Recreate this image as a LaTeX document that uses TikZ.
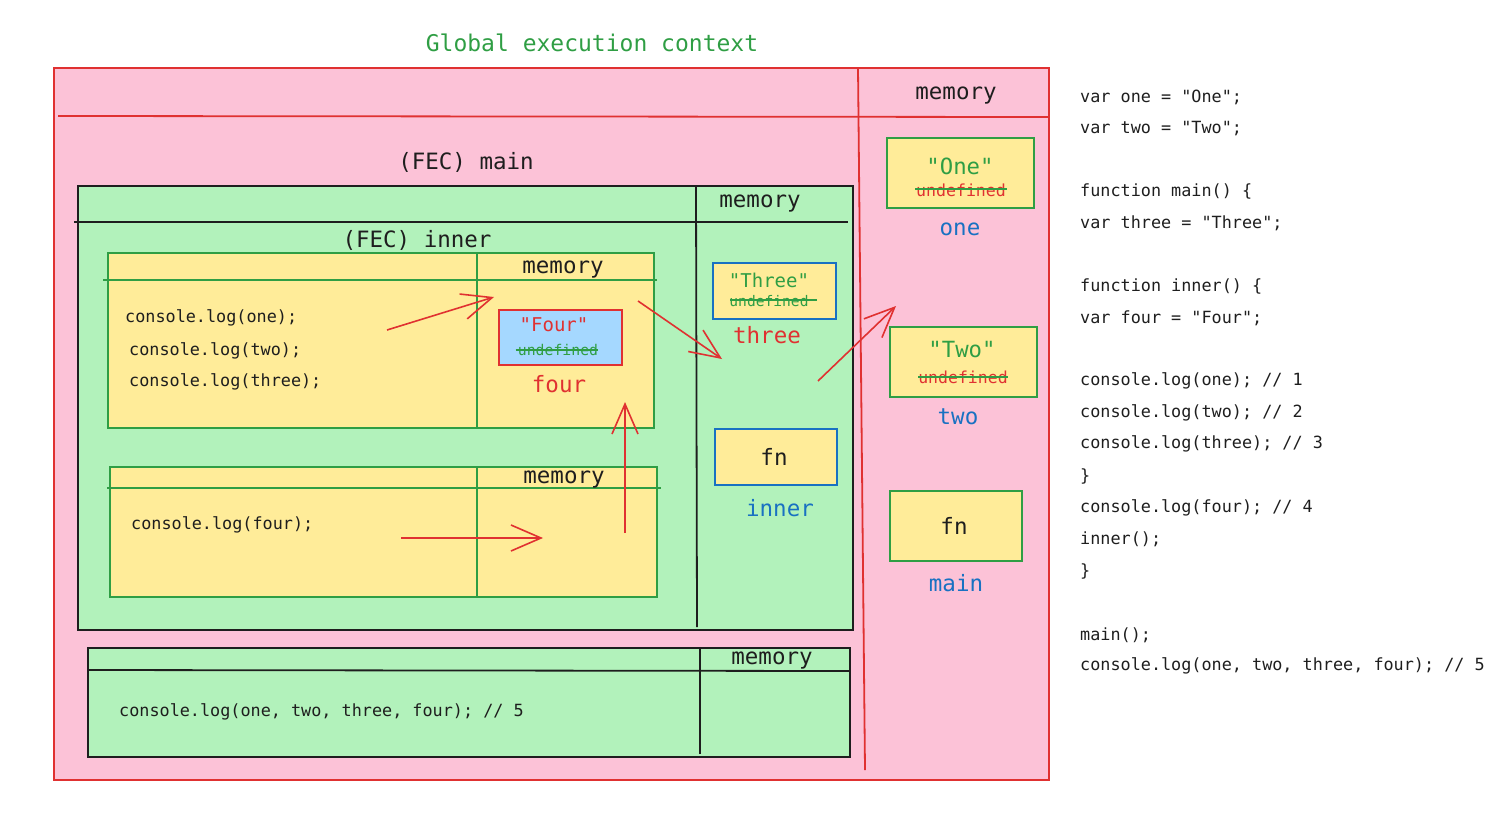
\documentclass[tikz,border=0pt]{standalone}
\usepackage{fontspec}
\setmonofont{DejaVu Sans Mono}
\usetikzlibrary{arrows.meta}
\definecolor{pinkF}{HTML}{FCC2D7}
\definecolor{redS}{HTML}{E03131}
\definecolor{greenF}{HTML}{B2F2BB}
\definecolor{greenS}{HTML}{2F9E44}
\definecolor{yellowF}{HTML}{FFEC99}
\definecolor{blueS}{HTML}{1971C2}
\definecolor{blueF}{HTML}{A5D8FF}
\definecolor{inkC}{HTML}{1E1E1E}
\begin{document}
\begin{tikzpicture}[x=1pt,y=-1pt,
  box/.style={draw, line width=1.8pt, inner sep=0pt, anchor=north west},
  lbl/.style={font=\fontsize{22.5}{26}\selectfont\ttfamily, inner sep=0pt, text=inkC},
  code/.style={font=\fontsize{16.8}{20}\selectfont\ttfamily, inner sep=0pt, anchor=west, text=inkC},
  val/.style={font=\fontsize{#1}{#1}\selectfont\ttfamily, inner sep=0pt},
  strike/.style={line width=1.6pt},
  divider/.style={line width=1.8pt},
  arr/.style={draw=redS, line width=1.6pt, -{Straight Barb[length=30pt,width=26pt]}}
]
\useasboundingbox (0,0) rectangle (1493,817);

% title
\node[lbl, text=greenS, font=\fontsize{23}{26}\selectfont\ttfamily] (title) at (592,43) {Global execution context};

% global execution context
\node[box, fill=pinkF, draw=redS, minimum width=995pt, minimum height=712pt] (gec) at (53,67) {};
\draw[divider, redS] (58,116) -- (1048,117);
\draw[divider, redS] (858,68) -- (865,770);
\node[lbl] (gmem) at (956,96) {memory};
\node[lbl] (fecmain) at (466,162) {(FEC) main};

% main FEC
\node[box, fill=greenF, draw=inkC, minimum width=775pt, minimum height=444pt] (mainbox) at (77,185) {};
\draw[divider, inkC] (74,222) -- (848,222);
\draw[divider, inkC] (696,185) -- (697,627);
\node[lbl] (mmem) at (760,204) {memory};
\node[lbl] (fecinner) at (417,240) {(FEC) inner};

% inner FEC box 1
\node[box, fill=yellowF, draw=greenS, minimum width=546pt, minimum height=175pt] (inner1) at (107,252) {};
\draw[divider, greenS] (103,280) -- (657,280);
\draw[divider, greenS] (477,252) -- (477,427);
\node[lbl] (i1mem) at (563,270) {memory};
\node[code] (c1) at (125,318) {console.log(one);};
\node[code] (c2) at (129,351) {console.log(two);};
\node[code] (c3) at (129,382) {console.log(three);};

% Four value
\node[box, fill=blueF, draw=redS, minimum width=123pt, minimum height=55pt] (fourbox) at (498,309) {};
\node[val=19, text=redS] (fourv) at (554,325) {"Four"};
\node[val=14.8, text=greenS] (fourund) at (558,350) {undefined};
\draw[strike, greenS] (fourund.west) ++(-2,0) -- (598,350);
\node[lbl, text=redS] (fourname) at (559,384) {four};

% inner FEC box 2
\node[box, fill=yellowF, draw=greenS, minimum width=547pt, minimum height=130pt] (inner2) at (109,466) {};
\draw[divider, greenS] (107,488) -- (661,488);
\draw[divider, greenS] (477,466) -- (477,596);
\node[lbl] (i2mem) at (564,480) {memory};
\node[code] (c4) at (131,525) {console.log(four);};

% main memory: three, inner
\node[box, fill=yellowF, draw=blueS, minimum width=123pt, minimum height=56pt] (threebox) at (712,262) {};
\node[val=19, text=greenS] (threev) at (769,280) {"Three"};
\node[val=14.6, text=greenS] (threeund) at (769,301) {undefined};
\draw[strike, greenS] (730,300) -- (817,300);
\node[lbl, text=redS] (threename) at (767,335) {three};

\node[box, fill=yellowF, draw=blueS, minimum width=122pt, minimum height=56pt] (innerfn) at (714,428) {};
\node[lbl] (innerfnt) at (774,457) {fn};
\node[lbl, text=blueS] (innername) at (780,508) {inner};

% global memory
\node[box, fill=yellowF, draw=greenS, minimum width=147pt, minimum height=70pt] (onebox) at (886,137) {};
\node[val=22.3, text=greenS] (onev) at (960,166) {"One"};
\node[val=16.6, text=redS] (oneund) at (961,190) {undefined};
\draw[strike, greenS] (915,189) -- (1007,189);
\node[lbl, text=blueS] (onename) at (960,229) {one};

\node[box, fill=yellowF, draw=greenS, minimum width=147pt, minimum height=70pt] (twobox) at (889,326) {};
\node[val=22.3, text=greenS] (twov) at (962,350) {"Two"};
\node[val=16.5, text=redS] (twound) at (963,377) {undefined};
\draw[strike, greenS] (918,377) -- (1008,377);
\node[lbl, text=blueS] (twoname) at (958,417) {two};

\node[box, fill=yellowF, draw=greenS, minimum width=132pt, minimum height=70pt] (mainfn) at (889,490) {};
\node[lbl] (mainfnt) at (954,526) {fn};
\node[lbl, text=blueS] (mainname) at (956,583) {main};

% bottom GEC code box
\node[box, fill=greenF, draw=inkC, minimum width=762pt, minimum height=109pt] (gcode) at (87,647) {};
\draw[divider, inkC] (87,670) -- (849,671);
\draw[divider, inkC] (700,647) -- (700,754);
\node[lbl] (gcmem) at (772,661) {memory};
\node[code] (c5) at (119,712) {console.log(one, two, three, four); // 5};

% arrows
\coordinate (a1s) at (387,330); \coordinate (a1e) at (494,297);
\coordinate (a2s) at (638,301); \coordinate (a2e) at (722,359);
\coordinate (a3s) at (401,538); \coordinate (a3e) at (543,538);
\coordinate (a4s) at (625,533); \coordinate (a4e) at (625,402);
\coordinate (a5s) at (818,381); \coordinate (a5e) at (896,306);
\draw[arr] (a1s) -- (a1e);
\draw[arr] (a2s) -- (a2e);
\draw[arr] (a3s) -- (a3e);
\draw[arr] (a4s) -- (a4e);
\draw[arr] (a5s) -- (a5e);

% source code
\node[code] (s1) at (1080,97) {var one = "One";};
\node[code] (s2) at (1080,129) {var two = "Two";};
\node[code] (s3) at (1080,191) {function main() \{};
\node[code] (s4) at (1080,223) {var three = "Three";};
\node[code] (s5) at (1080,286) {function inner() \{};
\node[code] (s6) at (1080,318) {var four = "Four";};
\node[code] (s7) at (1080,381) {console.log(one); // 1};
\node[code] (s8) at (1080,413) {console.log(two); // 2};
\node[code] (s9) at (1080,444) {console.log(three); // 3};
\node[code] (s10) at (1080,476) {\}};
\node[code] (s11) at (1080,508) {console.log(four); // 4};
\node[code] (s12) at (1080,539) {inner();};
\node[code] (s13) at (1080,571) {\}};
\node[code] (s14) at (1080,635) {main();};
\node[code] (s15) at (1080,666) {console.log(one, two, three, four); // 5};
\end{tikzpicture}
\end{document}
